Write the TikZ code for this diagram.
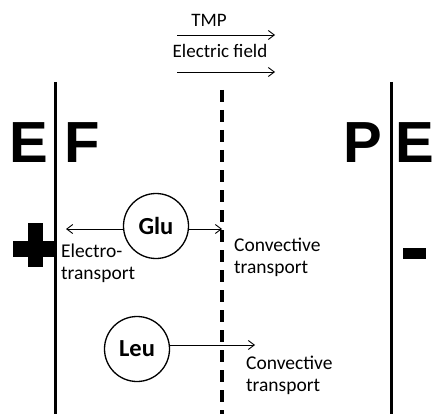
\documentclass[tikz,border=0pt]{standalone}
\usepackage{fontspec}
\setmainfont{Carlito}
\newfontfamily\bigfont{Liberation Sans}
\usetikzlibrary{arrows,arrows.meta,positioning}

\begin{document}
\begin{tikzpicture}[x=1pt, y=-1pt,
    membrane/.style={draw=black, line width=3pt},
    filter/.style={draw=black, line width=3.4pt, dash pattern=on 12pt off 8pt},
    flux/.style={-{Straight Barb[length=6pt, width=9pt]}, line width=0.9pt},
    side/.style={font=\bigfont\bfseries\fontsize{58}{58}\selectfont, inner sep=0pt, anchor=base west},
    acid/.style={circle, draw=black, line width=1.3pt, minimum size=65pt, inner sep=0pt, font=\bfseries\fontsize{24.5}{24.5}\selectfont},
    caption/.style={font=\fontsize{19.5}{22}\selectfont, align=left, inner sep=0pt, anchor=north west},
    label/.style={font=\fontsize{19}{19}\selectfont, inner sep=0pt, anchor=base}
]
\useasboundingbox (0,0) rectangle (433,414);

% Driving forces
\coordinate (tmpA) at (177,35);
\coordinate (tmpB) at (275,35);
\coordinate (efA) at (177,72);
\coordinate (efB) at (275,72);
\node[label] (tmp) at (209,27) {TMP};
\node[label] (ef) at (220,58) {Electric field};
\draw[flux] (tmpA) -- (tmpB);
\draw[flux] (efA) -- (efB);

% Membranes
\coordinate (memLtop) at (55,82);
\coordinate (memLbot) at (55,414);
\coordinate (memRtop) at (391,82);
\coordinate (memRbot) at (391,414);
\coordinate (filtTop) at (222,90);
\coordinate (filtBot) at (222,414);
\draw[membrane] (memLtop) -- (memLbot);
\draw[membrane] (memRtop) -- (memRbot);
\draw[filter] (filtTop) -- (filtBot);

% Compartments
\node[side] (eL) at (9,162) {E};
\node[side] (feed) at (64,162) {F};
\node[side] (perm) at (343,162) {P};
\node[side] (eR) at (395,162) {E};

% Electrodes
\fill (28,223) rectangle (43,267);
\fill (13,241) rectangle (55,257);
\fill (403,248) rectangle (426,259);

% Glutamic acid
\node[acid] (glu) at (156,226) {Glu};
\coordinate (gluL) at (66,229);
\coordinate (gluR) at (222,229);
\draw[flux] (glu.west |- gluL) -- (gluL);
\draw[flux] (glu.east |- gluR) -- (gluR);
\node[caption] (electro) at (61,244) {Electro-\\transport};
\node[caption] (conv1) at (234,238) {Convective\\transport};

% Leucine
\node[acid] (leu) at (137,349) {Leu};
\coordinate (leuR) at (255,345);
\draw[flux] (leu.east |- leuR) -- (leuR);
\node[caption] (conv2) at (246,356) {Convective\\transport};

\end{tikzpicture}
\end{document}
